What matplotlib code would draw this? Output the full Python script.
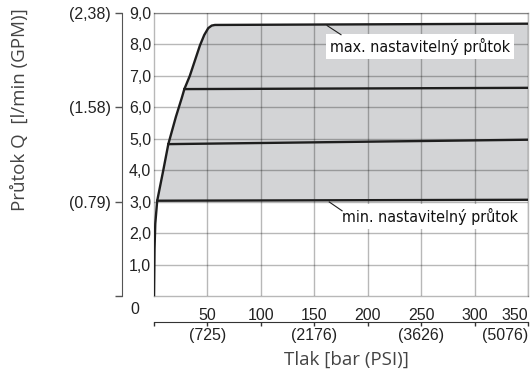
import matplotlib
matplotlib.use("Agg")
import matplotlib.pyplot as plt

# envelope (left boundary) of the flow range, bar vs l/min
env_bar = [0, 0.5, 1.2, 3.0, 8.7, 13.4, 15.6, 20.5, 26, 28.4, 33.5, 43, 47, 50.8, 54, 57]
env_q = [0, 1.5, 2.3, 3.03, 4.0, 4.83, 5.1, 5.7, 6.3, 6.58, 7.0, 7.97, 8.3, 8.52, 8.6, 8.62]

# horizontal flow curves (start, end)
max_bar = [57, 350]
max_q = [8.62, 8.66]
mid_hi_bar = [28.4, 350]
mid_hi_q = [6.58, 6.62]
mid_lo_bar = [13.4, 350]
mid_lo_q = [4.83, 4.97]
min_bar = [3.0, 350]
min_q = [3.03, 3.06]

bar_ticks = [50, 100, 150, 200, 250, 300, 350]
q_ticks = [1, 2, 3, 4, 5, 6, 7, 8, 9]
q_labels = ["1,0", "2,0", "3,0", "4,0", "5,0", "6,0", "7,0", "8,0", "9,0"]
gpm_ticks = [0, 3, 6, 9]
gpm_labels = ["", "(0.79)", "(1.58)", "(2,38)"]
psi_pos = [0, 50, 100, 150, 200, 250, 300, 350]
psi_labels = ["", "(725)", "", "(2176)", "", "(3626)", "", "(5076)"]

tick_font = "Liberation Sans"
note_font = "DejaVu Sans"
title_font = "Open Sans"

fig = plt.figure(figsize=(5.32, 3.85), dpi=100)
ax = fig.add_axes([154 / 532, 1 - 296 / 385, 374 / 532, 283 / 385])

# shaded operating area
i3 = env_q.index(3.03)
poly_x = env_bar[i3:] + max_bar[1:] + [min_bar[1], min_bar[0]]
poly_y = env_q[i3:] + max_q[1:] + [min_q[1], min_q[0]]
ax.fill(poly_x, poly_y, color="#d3d4d6", lw=0, zorder=1)

ax.plot(env_bar + max_bar[1:], env_q + max_q[1:], color="#1e1e1e", lw=1.7, zorder=3,
        solid_joinstyle="round")
for xs, ys in [(mid_hi_bar, mid_hi_q), (mid_lo_bar, mid_lo_q), (min_bar, min_q)]:
    ax.plot(xs, ys, color="#1e1e1e", lw=1.7, zorder=3)

ax.set_xlim(0, 350)
ax.set_ylim(0, 9)
ax.set_xticks(bar_ticks)
ax.set_xticklabels([str(b) for b in bar_ticks], family=tick_font, fontsize=11.5, color="#222222")
ax.get_xticklabels()[-1].set_ha("right")
ax.set_yticks(q_ticks)
ax.set_yticklabels(q_labels, family=tick_font, fontsize=11.5, color="#222222")
ax.tick_params(axis="x", length=0, pad=9)
ax.tick_params(axis="y", length=0, pad=2)
ax.grid(True, color="black", alpha=0.28, lw=1, zorder=2)
ax.set_axisbelow(False)
for s in ax.spines.values():
    s.set_edgecolor("black")
    s.set_alpha(0.28)
    s.set_linewidth(1)

# GPM axis on the left
sec_y = ax.secondary_yaxis(-32 / 374)
sec_y.set_yticks(gpm_ticks)
sec_y.set_yticklabels(gpm_labels, family=tick_font, fontsize=11.5, color="#222222")
sec_y.tick_params(length=5, width=1, pad=3, color="#555555")
sec_y.spines["left"].set_color("#555555")

# PSI axis below
sec_x = ax.secondary_xaxis(-26 / 283)
sec_x.set_xticks(psi_pos)
sec_x.set_xticklabels(psi_labels, family=tick_font, fontsize=11.5, color="#222222")
sec_x.get_xticklabels()[-1].set_ha("right")
sec_x.tick_params(length=3, width=1, pad=1.5, color="#333333")
sec_x.spines["bottom"].set_color("#333333")

fig.text(135 / 532, 1 - 309 / 385, "0", family=tick_font, fontsize=11.5,
         color="#222222", ha="center", va="center")

# notes
ax.text(249, 7.93, "max. nastavitelný průtok", family=note_font, stretch="condensed",
        fontsize=11.5, color="#111111", ha="center", va="center", zorder=4,
        bbox=dict(facecolor="white", edgecolor="none", pad=3))
ax.plot([162, 175], [8.6, 8.31], color="#1e1e1e", lw=0.8, zorder=4)
ax.text(258, 2.52, "min. nastavitelný průtok", family=note_font, stretch="condensed",
        fontsize=11.5, color="#111111", ha="center", va="center", zorder=4,
        bbox=dict(facecolor="white", edgecolor="none", pad=3))
ax.plot([164, 176], [2.99, 2.71], color="#1e1e1e", lw=0.8, zorder=4)

fig.text(346 / 532, 1 - 360 / 385, "Tlak [bar (PSI)]", family=title_font, fontsize=13.5,
         color="#444444", ha="center", va="center")
fig.text(20 / 532, 1 - 110 / 385, "Průtok Q  [l/min (GPM)]", family=title_font, fontsize=13.5,
         color="#444444", ha="center", va="center", rotation=90)

fig.savefig("out.png", dpi=100)
